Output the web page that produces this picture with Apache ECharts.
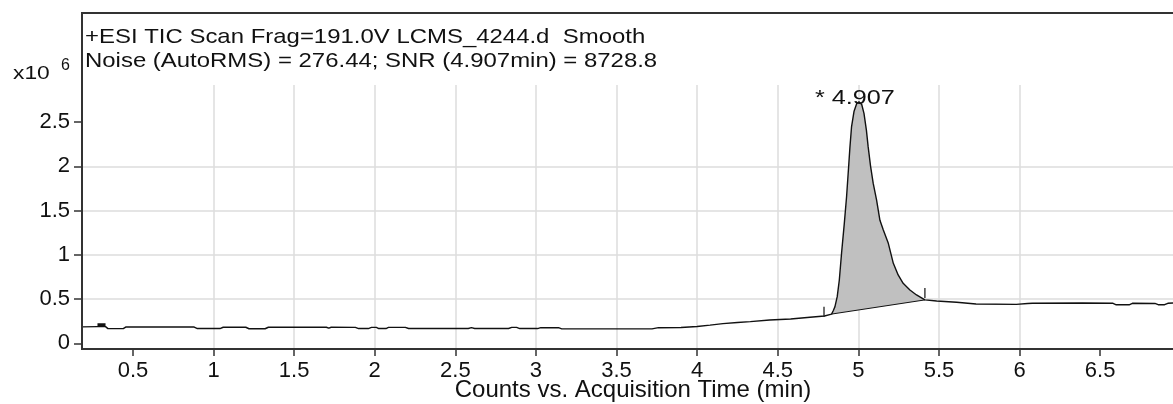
<!DOCTYPE html>
<html>
<head>
<meta charset="utf-8">
<script src="https://cdn.jsdelivr.net/npm/echarts@6/dist/echarts.min.js"></script>
<style>
html,body{margin:0;padding:0;background:#fff;}
#chart{width:1173px;height:404px;}
</style>
</head>
<body>
<div id="chart"></div>
<script>
// ---- data (time in min, counts in x10^6) ----
const titleLines = [
  '+ESI TIC Scan Frag=191.0V LCMS_4244.d  Smooth',
  'Noise (AutoRMS) = 276.44; SNR (4.907min) = 8728.8'
];
const xTicks = [0.5, 1, 1.5, 2, 2.5, 3, 3.5, 4, 4.5, 5, 5.5, 6, 6.5];
const yTicks = [0, 0.5, 1, 1.5, 2, 2.5];
const xRange = [0.184, 6.952];
const yRange = [-0.065, 2.92];
const peakLabel = '* 4.907';
const xAxisTitle = 'Counts vs. Acquisition Time (min)';

const preTrace = [
  [0.184, 0.185], [0.28, 0.188], [0.33, 0.188], [0.345, 0.165], [0.44, 0.165], [0.455, 0.183],
  [0.88, 0.183], [0.9, 0.166], [1.04, 0.166], [1.06, 0.181], [1.2, 0.181], [1.22, 0.164],
  [1.32, 0.164], [1.34, 0.181], [1.7, 0.181], [1.715, 0.17], [1.73, 0.181], [1.88, 0.18],
  [1.9, 0.166], [1.96, 0.166], [1.98, 0.179], [2.01, 0.179], [2.025, 0.166], [2.07, 0.166],
  [2.085, 0.18], [2.19, 0.18], [2.21, 0.167], [2.58, 0.167], [2.6, 0.176], [2.62, 0.167],
  [2.83, 0.167], [2.85, 0.18], [2.88, 0.18], [2.9, 0.166], [3.01, 0.166], [3.03, 0.176],
  [3.14, 0.176], [3.16, 0.162], [3.72, 0.162], [3.76, 0.176], [3.9, 0.178], [4.0, 0.19],
  [4.08, 0.205], [4.16, 0.222], [4.25, 0.235], [4.33, 0.245], [4.45, 0.263], [4.58, 0.275],
  [4.7, 0.294], [4.79, 0.308]
];
const peakTrace = [
  [4.834, 0.33], [4.845, 0.37], [4.855, 0.414], [4.869, 0.527], [4.882, 0.715], [4.896, 1.02],
  [4.913, 1.356], [4.927, 1.657], [4.941, 2.03], [4.948, 2.22], [4.958, 2.45], [4.973, 2.62],
  [4.99, 2.71], [5.004, 2.73], [5.021, 2.70], [5.035, 2.6], [5.05, 2.41], [5.061, 2.22],
  [5.076, 2.0], [5.092, 1.81], [5.113, 1.62], [5.134, 1.39], [5.155, 1.28], [5.186, 1.13],
  [5.217, 0.904], [5.247, 0.772], [5.278, 0.678], [5.32, 0.602], [5.361, 0.546], [5.413, 0.49]
];
const postTrace = [
  [5.486, 0.478], [5.61, 0.463], [5.73, 0.444], [5.98, 0.44], [6.05, 0.45], [6.08, 0.452],
  [6.39, 0.455], [6.58, 0.452], [6.6, 0.435], [6.68, 0.435], [6.7, 0.452], [6.84, 0.45],
  [6.86, 0.436], [6.9, 0.436], [6.92, 0.452], [6.952, 0.455]
];
const peakBaseline = [[4.834, 0.33], [5.413, 0.49]];
const integrationMarks = [[4.787, 0.301, 0.414], [5.413, 0.512, 0.625]];
const startMarker = [[0.28, 0.21], [0.33, 0.21]];

// ---- chart ----
const FONT = '"Liberation Sans", Arial, sans-serif';
const trace = preTrace.concat(peakTrace, postTrace);
const chart = echarts.init(document.getElementById('chart'));

chart.setOption({
  animation: false,
  backgroundColor: '#ffffff',
  grid: { left: 82, right: 0, top: 85, bottom: 55, outerBoundsMode: 'none', containLabel: false },
  xAxis: {
    type: 'value',
    min: xRange[0], max: xRange[1],
    name: xAxisTitle,
    nameLocation: 'middle',
    nameGap: 29,
    nameMoveOverlap: false,
    nameTextStyle: { fontFamily: FONT, fontSize: 24, color: '#111', padding: [0, 0, 0, 11] },
    axisLine: { show: true, onZero: false, lineStyle: { color: '#333', width: 2 } },
    axisTick: { show: true, customValues: xTicks, length: 7, inside: false, lineStyle: { color: '#333', width: 1.5 } },
    axisLabel: { customValues: xTicks, fontFamily: FONT, fontSize: 22, color: '#111', margin: 11,
                 formatter: v => String(v) },
    splitLine: { show: true, showMinLine: false, showMaxLine: false, lineStyle: { color: '#dcdcdc', width: 1.5 } }
  },
  yAxis: {
    type: 'value',
    min: yRange[0], max: yRange[1],
    axisLine: { show: true, onZero: false, lineStyle: { color: '#333', width: 2 } },
    axisTick: { show: true, customValues: yTicks, length: 8, inside: false, lineStyle: { color: '#333', width: 1.5 } },
    axisLabel: { customValues: yTicks, fontFamily: FONT, fontSize: 22, color: '#111', margin: 12,
                 formatter: v => String(v) },
    splitLine: { show: true, showMinLine: false, showMaxLine: false, lineStyle: { color: '#dcdcdc', width: 1.5 } }
  },
  graphic: [
    { type: 'rect', x: 0, y: 0, z: 100, silent: true,
      shape: { x: 82, y: 13, width: 1200, height: 336 },
      style: { fill: 'none', stroke: '#333', lineWidth: 2 } },
    { type: 'text', x: 85, y: 37, scaleX: 1.14, z: 100,
      style: { text: titleLines[0], font: '21px ' + FONT, fill: '#111', textVerticalAlign: 'middle' } },
    { type: 'text', x: 85, y: 61, scaleX: 1.14, z: 100,
      style: { text: titleLines[1], font: '21px ' + FONT, fill: '#111', textVerticalAlign: 'middle' } },
    { type: 'text', x: 13, y: 74, scaleX: 1.2, z: 100,
      style: { text: 'x10', font: '19px ' + FONT, fill: '#111', textVerticalAlign: 'middle' } },
    { type: 'text', x: 61, y: 66, z: 100,
      style: { text: '6', font: '16px ' + FONT, fill: '#111', textVerticalAlign: 'middle' } },
    { type: 'text', x: 815, y: 98, scaleX: 1.2, z: 100,
      style: { text: peakLabel, font: '21px ' + FONT, fill: '#111', textVerticalAlign: 'middle' } }
  ],
  series: [
    {
      type: 'custom',
      coordinateSystem: 'cartesian2d',
      data: [peakTrace[0]],
      z: 1,
      silent: true,
      renderItem: (params, api) => ({
        type: 'polygon',
        shape: { points: peakTrace.map(p => api.coord(p)) },
        style: { fill: '#c0c0c0', stroke: 'none' }
      })
    },
    {
      type: 'line',
      data: peakBaseline,
      showSymbol: false,
      z: 3,
      lineStyle: { color: '#111', width: 1 }
    },
    {
      type: 'line',
      data: trace,
      showSymbol: false,
      z: 4,
      lineStyle: { color: '#111', width: 1.4 }
    },
    {
      type: 'line',
      data: startMarker,
      showSymbol: false,
      z: 4,
      lineStyle: { color: '#111', width: 3 }
    },
    {
      type: 'custom',
      coordinateSystem: 'cartesian2d',
      data: integrationMarks,
      z: 5,
      silent: true,
      renderItem: (params, api) => {
        const a = api.coord([api.value(0), api.value(1)]);
        const b = api.coord([api.value(0), api.value(2)]);
        return { type: 'line', shape: { x1: a[0], y1: a[1], x2: b[0], y2: b[1] },
                 style: { stroke: '#111', lineWidth: 1.2 } };
      }
    }
  ]
});
</script>
</body>
</html>
